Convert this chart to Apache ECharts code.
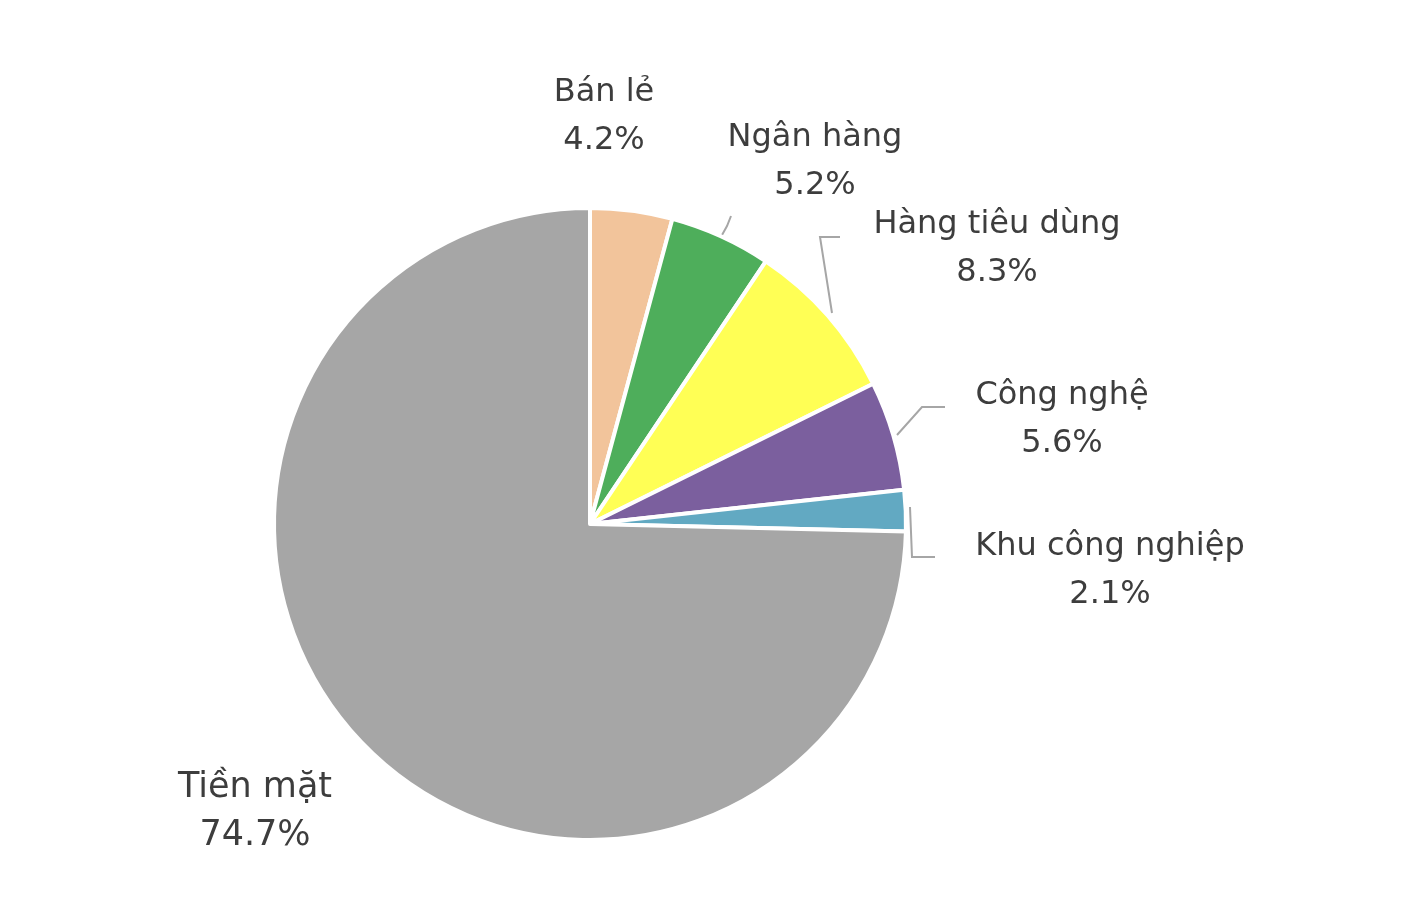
<!DOCTYPE html>
<html>
<head>
<meta charset="utf-8">
<script src="https://cdn.jsdelivr.net/npm/echarts@6/dist/echarts.min.js"></script>
<style>
  html, body { margin: 0; padding: 0; background: #fff; }
  #chart { width: 1404px; height: 924px; }
</style>
</head>
<body>
<div id="chart"></div>
<script>
var sectors = ['Bán lẻ', 'Ngân hàng', 'Hàng tiêu dùng', 'Công nghệ', 'Khu công nghiệp', 'Tiền mặt'];
var shares = [4.2, 5.2, 8.3, 5.6, 2.1, 74.7];
var colors = ['#F2C49B', '#4EAE5B', '#FFFF55', '#7B5F9E', '#62A9C2', '#A6A6A6'];

// where each label sits (centre of text block) and its leader line, if any
var labelPos = [
    {x: 604, y: 117, size: 32, line: null},
    {x: 815, y: 162, size: 32, line: [[722, 235], [727, 226], [731, 216]]},
    {x: 997, y: 249, size: 32, line: [[832, 313], [820, 237], [840, 237]]},
    {x: 1062, y: 420, size: 32, line: [[897, 435], [922, 407], [945, 407]]},
    {x: 1110, y: 571, size: 32, line: [[910, 507], [912, 557], [935, 557]]},
    {x: 255, y: 812, size: 35, line: null}
];

var myChart = echarts.init(document.getElementById('chart'));

var pieData = sectors.map(function (name, i) {
    return {
        name: name,
        value: shares[i],
        itemStyle: {color: colors[i]},
        label: {fontSize: labelPos[i].size},
        labelLine: {show: !!labelPos[i].line}
    };
});

var option = {
    animation: false,
    series: [{
        type: 'pie',
        center: [590, 524],
        radius: 316,
        startAngle: 90,
        clockwise: true,
        data: pieData,
        itemStyle: {borderColor: '#fff', borderWidth: 4},
        label: {
            show: true,
            position: 'outside',
            formatter: '{b}\n{c}%',
            fontFamily: 'DejaVu Sans',
            fontSize: 32,
            lineHeight: 48,
            color: '#3d3d3d',
            align: 'center'
        },
        labelLine: {
            show: true,
            lineStyle: {color: '#A6A6A6', width: 2}
        },
        labelLayout: function (params) {
            var p = labelPos[params.dataIndex];
            var res = {x: p.x, y: p.y, align: 'center', verticalAlign: 'middle', hideOverlap: false};
            if (p.line) res.labelLinePoints = p.line;
            return res;
        }
    }]
};

myChart.setOption(option);
</script>
</body>
</html>
